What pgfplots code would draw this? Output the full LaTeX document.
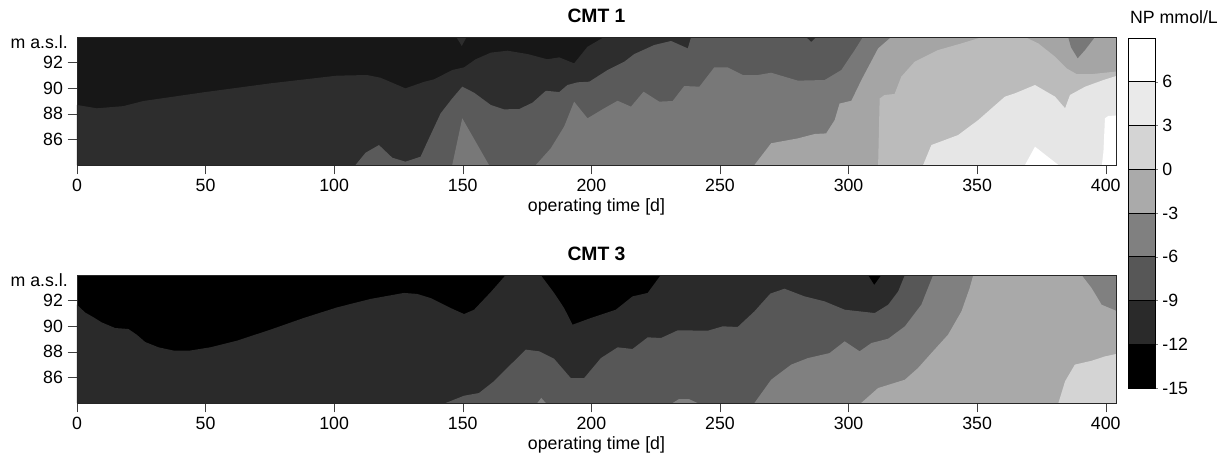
\documentclass[border=0pt]{standalone}
\usepackage{fontspec}
\setmainfont{Liberation Sans}
\usepackage{pgfplots}
\pgfplotsset{compat=1.18}

% shades seen in the two panels and in the scale
\definecolor{ta}{HTML}{171717}
\definecolor{tb}{HTML}{2D2D2D}
\definecolor{tc}{HTML}{5A5A5A}
\definecolor{td}{HTML}{787878}
\definecolor{te}{HTML}{A5A5A5}
\definecolor{tf}{HTML}{BBBBBB}
\definecolor{tg}{HTML}{E6E6E6}
\definecolor{ba}{HTML}{000000}
\definecolor{bb}{HTML}{2A2A2A}
\definecolor{bc}{HTML}{575757}
\definecolor{bd}{HTML}{808080}
\definecolor{be}{HTML}{A9A9A9}
\definecolor{bf}{HTML}{D4D4D4}
\definecolor{cc}{HTML}{AAAAAA}
\definecolor{cg}{HTML}{EAEAEA}

\newcommand{\tfont}{\fontsize{13.3}{15}\selectfont}

\pgfplotsset{
  cmt/.style={
    scale only axis, width=779.25pt, height=96pt,
    xmin=0, xmax=404, ymin=84, ymax=94,
    xtick={0,50,...,400}, ytick={86,88,90,92},
    xtick pos=bottom, ytick pos=left,
    tick align=outside, major tick length=7pt,
    axis line style={black!85}, tick style={black!75},
    tick label style={font=\tfont},
    label style={font=\tfont},
    /pgf/number format/assume math mode=true,
    xlabel={operating time [d]},
    xlabel style={yshift=1.5pt},
    title style={font=\fontsize{14.5}{17}\selectfont\bfseries, yshift=1pt},
    clip mode=individual,
    axis on top,
  },
  lev/.style={fill=#1, draw=none},
}

\begin{document}
\begin{tikzpicture}
\useasboundingbox (0,0) rectangle (917.25pt,-341.25pt);

% ---------------- CMT 1 ----------------
\begin{axis}[cmt, at={(57.75pt,-123.75pt)}, anchor=south west, title={CMT 1}]
\addplot[lev=ta] coordinates {(0,84)(0,94)(404,94)(404,84)};
\addplot[lev=tb] coordinates {(0,84)(0,88.69)(7.7,88.43)(18,88.6)(25.8,89.0)(49.2,89.68)(75.2,90.38)(101,90.98)(112.8,91.03)(118,90.82)(127.7,89.99)(135,90.5)(138.8,90.69)(145.9,91.42)(150.5,91.63)(155,92.26)(160.9,92.78)(167.4,92.93)(175.2,92.67)(182.9,92.26)(187.5,92.41)(193.3,91.94)(198.5,93.24)(205,94)(404,94)(404,84)};
\addplot[lev=tb] coordinates {(147.5,94)(149.6,93.3)(151.5,94)};
\addplot[lev=tc] coordinates {(108.3,84)(112.2,84.96)(117.4,85.56)(122.6,84.57)(127.7,84.26)(133.6,84.65)(136.2,85.8)(141.4,88.04)(145.9,89.2)(149.8,90.12)(154.4,89.65)(160.9,88.69)(166,88.35)(171.9,88.37)(177.1,88.87)(182.3,89.8)(187.5,89.7)(190.7,90.25)(194.6,90.46)(199.2,90.51)(206.3,91.42)(212.8,92.07)(216.7,92.67)(224.5,93.38)(231,93.69)(237.5,93.11)(238.8,94)(404,94)(404,84)};
\addplot[lev=tb] coordinates {(283.5,94)(285.5,93.63)(287.4,94)};
\addplot[lev=td] coordinates {(145.9,84)(149.8,87.65)(160.2,84)};
\addplot[lev=td] coordinates {(178.4,84)(184.2,85.3)(189.4,87)(193.3,88.95)(198.5,87.65)(205,88.43)(210.2,89.02)(215.4,88.56)(220.3,89.73)(226.4,88.95)(231.6,89)(236.1,90.17)(242,90.12)(247.8,91.63)(253,91.63)(258.9,91.03)(264.7,91.03)(269.9,91.21)(280.3,90.59)(290.7,90.64)(297.2,91.42)(302.4,92.98)(305.6,94)(404,94)(404,84)};
\addplot[lev=te] coordinates {(263.4,84)(269.9,85.7)(280.3,86.08)(286.8,86.42)(291.3,86.47)(294.6,87.51)(296.5,88.8)(301.1,89.02)(305,90.64)(311.5,93.11)(316.6,94)(404,94)(404,84)};
\addplot[lev=td] coordinates {(385.4,94)(386.5,93.2)(389.1,92.34)(392,93)(395.8,94)};
\addplot[lev=tf] coordinates {(311.5,84)(312.1,89.2)(314,89.47)(317.9,89.55)(320.5,90.9)(325.7,92.07)(334.8,92.98)(343.9,93.5)(350.4,93.9)(352,94)(368.6,94)(373.8,93.5)(380.3,92.46)(384.8,91.55)(388.7,91.1)(394.5,91.1)(399.7,91.21)(404,91.3)(404,84)};
\addplot[lev=tg] coordinates {(329,84)(332.2,85.56)(342.6,86.34)(350.4,87.51)(360.8,89.34)(364.7,89.6)(372.5,90.25)(380.3,89.34)(384.2,88.43)(386.1,89.47)(392,90.12)(399.1,90.64)(404,90.95)(404,84)};
\addplot[lev=white] coordinates {(368.6,84)(372.5,85.43)(381.6,84)};
\addplot[lev=white] coordinates {(398.5,84)(399.1,85)(399.7,87.65)(401,87.83)(404,87.87)(404,84)};
\node[anchor=east, inner sep=0pt, font=\tfont] at ([xshift=-6.75pt]rel axis cs:0,0.963) {m a.s.l.};
\end{axis}

% ---------------- CMT 3 ----------------
\begin{axis}[cmt, at={(57.75pt,-302.25pt)}, anchor=south west, title={CMT 3}]
\addplot[lev=ba] coordinates {(0,84)(0,94)(404,94)(404,84)};
\addplot[lev=bb] coordinates {(0,84)(0,91.68)(3.1,91.08)(6.4,90.7)(9.6,90.3)(14.8,89.86)(20,89.78)(23.2,89.34)(26.5,88.77)(31.7,88.35)(37.5,88.1)(44,88.1)(51.8,88.35)(62.2,88.87)(75.2,89.73)(88.1,90.64)(101.1,91.47)(114.1,92.13)(127.1,92.6)(132.3,92.52)(137.5,92.2)(145.3,91.42)(150.5,90.95)(154.4,91.29)(160.9,92.67)(166.7,94)(180.3,94)(185.5,92.6)(189.4,91.42)(192.7,90.12)(199.8,90.64)(204.4,90.95)(209.5,91.29)(216,92.33)(221.9,92.6)(227,94)(404,94)(404,84)};
\addplot[lev=ba] coordinates {(307.6,94)(310,93.24)(312.7,94)};
\addplot[lev=bc] coordinates {(143.3,84)(150.5,84.57)(156.3,84.78)(162.1,85.7)(168.6,87)(174.5,88.17)(179.7,88.04)(185.5,87.46)(192,85.95)(197.2,85.95)(203.7,87.51)(210.2,88.35)(216,88.22)(221.9,89.13)(227.1,89.08)(233.6,89.68)(245.3,89.65)(251.1,89.99)(256.9,89.94)(263.4,91.16)(269.6,92.55)(275.1,92.93)(282.9,92.33)(290.7,91.94)(298.5,91.29)(310.2,91.03)(315.4,91.68)(319.3,92.72)(321.9,94)(404,94)(404,84)};
\addplot[lev=bd] coordinates {(179,84)(180.5,84.4)(182.3,84)};
\addplot[lev=bd] coordinates {(231.6,84)(234,84.3)(238,84.3)(241.3,84)};
\addplot[lev=bd] coordinates {(263.4,84)(269.9,85.82)(277.7,87)(284.2,87.51)(292.6,87.9)(298.5,88.82)(304.3,88.04)(308.9,88.69)(315.4,89.02)(321.9,89.99)(328.3,91.68)(332.9,94)(404,94)(404,84)};
\addplot[lev=be] coordinates {(304.9,84)(311.5,85.17)(321.9,85.82)(327,86.73)(332.2,87.9)(338.7,89.34)(343.9,91.16)(347.1,92.98)(348.5,94)(390.6,94)(394.5,92.98)(398.4,91.68)(404,91.21)(404,84)};
\addplot[lev=bf] coordinates {(381.6,84)(384.2,85.7)(388,87)(394.5,87.3)(399.7,87.64)(404,87.83)(404,84)};
\node[anchor=east, inner sep=0pt, font=\tfont] at ([xshift=-6.75pt]rel axis cs:0,0.963) {m a.s.l.};
\end{axis}

% ---------------- scale ----------------
\begin{axis}[at={(846pt,-291pt)}, anchor=south west,
  scale only axis, width=20.25pt, height=262.5pt,
  xmin=0, xmax=1, ymin=-15, ymax=9,
  xtick=\empty, ytick={-15,-12,...,6},
  yticklabels={-15,-12,-9,-6,-3,0,3,6},
  ytick pos=right, yticklabel pos=right,
  tick align=outside, major tick length=2pt,
  tick label style={font=\tfont},
  axis line style={black}, axis on top]
\addplot[fill=ba, draw=black] coordinates {(0,-15)(1,-15)(1,-12)(0,-12)} -- cycle;
\addplot[fill=bb, draw=black] coordinates {(0,-12)(1,-12)(1,-9)(0,-9)} -- cycle;
\addplot[fill=bc, draw=black] coordinates {(0,-9)(1,-9)(1,-6)(0,-6)} -- cycle;
\addplot[fill=bd, draw=black] coordinates {(0,-6)(1,-6)(1,-3)(0,-3)} -- cycle;
\addplot[fill=cc, draw=black] coordinates {(0,-3)(1,-3)(1,0)(0,0)} -- cycle;
\addplot[fill=bf, draw=black] coordinates {(0,0)(1,0)(1,3)(0,3)} -- cycle;
\addplot[fill=cg, draw=black] coordinates {(0,3)(1,3)(1,6)(0,6)} -- cycle;
\addplot[fill=white, draw=black] coordinates {(0,6)(1,6)(1,9)(0,9)} -- cycle;
\end{axis}
\node[font=\tfont] at (880.5pt,-12.75pt) {NP mmol/L};
\end{tikzpicture}
\end{document}
